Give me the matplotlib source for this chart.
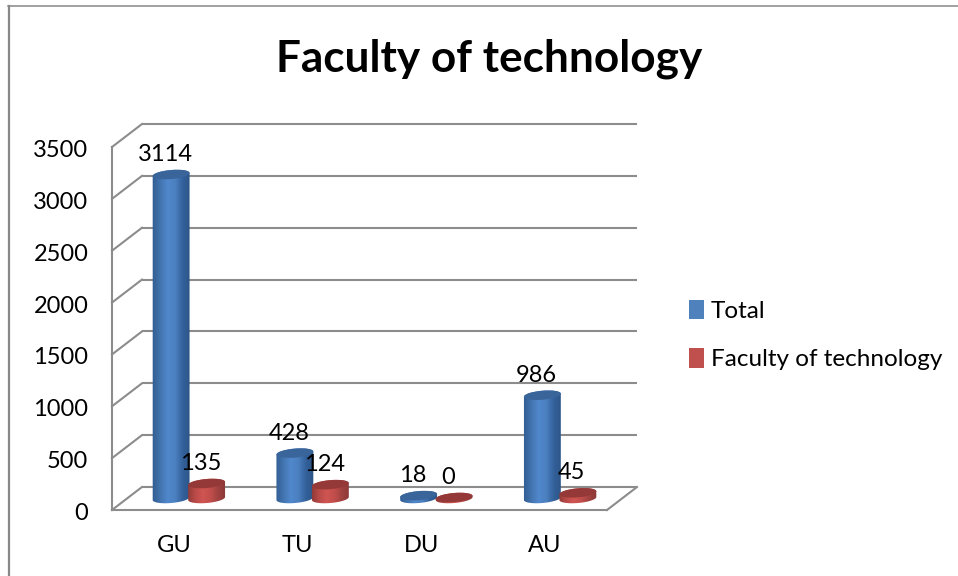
import numpy as np
import matplotlib
matplotlib.use("Agg")
import matplotlib.pyplot as plt
from matplotlib.colors import LinearSegmentedColormap
from matplotlib.lines import Line2D
from matplotlib.patches import Ellipse, Polygon, Patch
from matplotlib.transforms import Affine2D, IdentityTransform

categories = ["GU", "TU", "DU", "AU"]
total = [3114, 428, 18, 986]
faculty = [135, 124, 0, 45]
y_ticks = [0, 500, 1000, 1500, 2000, 2500, 3000, 3500]
title = "Faculty of technology"
series_names = ["Total", "Faculty of technology"]

plt.rcParams["font.family"] = ["Lato", "DejaVu Sans"]

W, H = 958, 576
GRID = "#8c8c8c"

fig = plt.figure(figsize=(W / 100, H / 100), dpi=100, facecolor="white")
ax = fig.add_axes([112 / W, (H - 510) / H, 495 / W, 363 / H])
ax.set_xlim(0, len(categories))
ax.set_ylim(0, 3500)
ax.patch.set_visible(False)

# 3d look: back wall and bar plane are the data transform moved by some pixels
back = ax.transData + Affine2D().translate(30, 23)
bar_plane = ax.transData + Affine2D().translate(15, 11.5)


def cylinder(x, value, width_px, colors, top_color):
    px = IdentityTransform()
    cx, y0 = bar_plane.transform((x, 0))
    _, y1 = bar_plane.transform((x, value))
    y1 = y1 + 1  # keeps a thin rim visible on flat bars
    a, b = width_px / 2, 4.5
    tilt = np.deg2rad(5)

    def arc(cy, t):
        ex, ey = a * np.cos(t), b * np.sin(t)
        return np.column_stack([cx + ex * np.cos(tilt) - ey * np.sin(tilt),
                                cy + ex * np.sin(tilt) + ey * np.cos(tilt)])

    outline = np.vstack([arc(y0, np.linspace(np.pi, 2 * np.pi, 40)),
                         arc(y1, np.linspace(0, np.pi, 40))])
    clip = Polygon(outline, closed=True, transform=px, fill=False, edgecolor="none")
    ax.add_patch(clip)
    cmap = LinearSegmentedColormap.from_list("c", colors)
    grad = np.linspace(0, 1, 128).reshape(1, -1)
    im = ax.imshow(grad, cmap=cmap, aspect="auto", transform=px, zorder=3,
                   extent=(cx - a - 1, cx + a + 1, y0 - 8, y1 + 8))
    im.set_clip_path(clip)
    ax.add_patch(Ellipse((cx, y1), width_px, 2 * b, angle=5, transform=px,
                         facecolor=top_color, edgecolor="none", zorder=4))


# walls
for v in y_ticks:
    ax.plot([0, len(categories)], [v, v], transform=back, color=GRID, lw=1.5,
            solid_capstyle="butt", clip_on=False, zorder=1)
    x0, y0 = ax.transData.transform((0, v))
    x1, y1 = back.transform((0, v))
    ax.add_line(Line2D([x0, x1], [y0, y1], transform=IdentityTransform(), color=GRID,
                       lw=1.5, clip_on=False, zorder=1))
x0, y0 = ax.transData.transform((len(categories), 0))
x1, y1 = back.transform((len(categories), 0))
ax.add_line(Line2D([x0, x1], [y0, y1], transform=IdentityTransform(), color=GRID,
                   lw=1.5, clip_on=False, zorder=1))

blue = ["#2f5b90", "#4273ae", "#5188cc", "#4b80c0", "#33609a", "#2c5585"]
red = ["#8c3836", "#b84a48", "#cf5552", "#c24e4b", "#a04240", "#8a3836"]

for i, (t, f) in enumerate(zip(total, faculty)):
    cylinder(i + 0.5 - 0.1434, t, 37, blue, "#39659a")
    cylinder(i + 0.5 + 0.1434, f, 37, red, "#943937")
    for x, v in ((i + 0.5 - 0.1434, t), (i + 0.5 + 0.1434, f)):
        ax.annotate(str(v), xy=(x, v), xycoords=bar_plane, xytext=(-6, 21),
                    textcoords="offset pixels", ha="center", va="center",
                    fontsize=17, color="black", zorder=6, annotation_clip=False)

ax.set_xlim(0, len(categories))
ax.set_ylim(0, 3500)

ax.set_xticks(np.arange(len(categories)) + 0.5, categories)
ax.set_yticks(y_ticks, [str(v) for v in y_ticks])
ax.tick_params(axis="x", length=0, pad=18, labelsize=17)
ax.tick_params(axis="y", length=0, pad=17, labelsize=17)
for label in ax.get_yticklabels():
    label.set_transform(label.get_transform() + Affine2D().translate(0, -1.5))
for s in ("top", "right"):
    ax.spines[s].set_visible(False)
for s in ("left", "bottom"):
    ax.spines[s].set_color(GRID)
    ax.spines[s].set_linewidth(1.5)

fig.text(489 / W, 1 - 59 / H, title, ha="center", va="center", fontsize=31.8, fontweight="bold")

handles = [Patch(facecolor="#4f81bd"), Patch(facecolor="#c0504d")]
fig.legend(handles, series_names, loc="center left", frameon=False,
           bbox_to_anchor=(689 / W, 1 - 335 / H), fontsize=17.5, handlelength=0.62,
           handleheight=0.85, handletextpad=0.27, labelspacing=1.08, borderpad=0, borderaxespad=0)

# outer frame, only top and left are in the picture
fig.add_artist(Line2D([9 / W, 9 / W], [0, 1 - 5.5 / H], color="#888888", lw=1.6))
fig.add_artist(Line2D([8 / W, 1], [1 - 5.5 / H, 1 - 5.5 / H], color="#888888", lw=1.1))

fig.savefig("out.png", dpi=100)
